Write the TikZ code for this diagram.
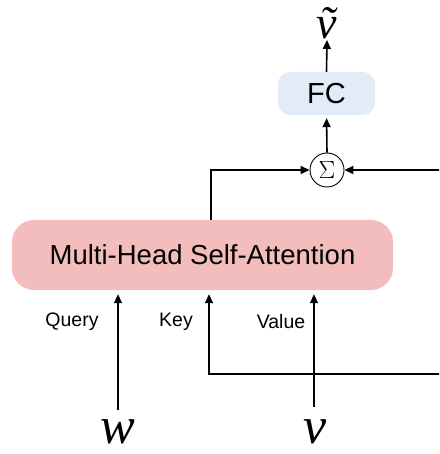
\documentclass[tikz,border=0pt]{standalone}
\usepackage{fontspec}
\setmainfont{Liberation Serif}
\newfontfamily\labelfont{Liberation Sans}
\usetikzlibrary{arrows.meta}
\definecolor{attnpink}{RGB}{244,189,189}
\definecolor{fcblue}{RGB}{226,236,248}
\tikzset{
  flow/.style={line width=1.6pt, -{Triangle[length=9pt,width=8pt]}},
  block/.style={rounded corners=#1, inner sep=0pt, font=\labelfont},
  sublabel/.style={font=\labelfont\fontsize{19.5}{22}\selectfont, anchor=center},
  varlabel/.style={font=\itshape\fontsize{52}{52}\selectfont, inner sep=0pt},
}
\begin{document}
\begin{tikzpicture}[x=1pt, y=-1pt]
  \clip (0,0) rectangle (439,454);
  % attention block and fully connected layer
  \node[block=22pt, fill=attnpink, minimum width=381pt, minimum height=70pt,
        font=\labelfont\fontsize{27.5}{32}\selectfont] (mhsa) at (202.5,255) {Multi-Head Self-Attention};
  \node[block=12pt, fill=fcblue, minimum width=97pt, minimum height=43pt,
        font=\labelfont\fontsize{29}{34}\selectfont] (fc) at (326.5,93.5) {FC};
  % summation
  \node[draw, circle, line width=0.9pt, minimum size=34pt, inner sep=0pt,
        font=\fontsize{24}{24}\selectfont] (sum) at (327,170) {$\Sigma$};
  % input and output symbols
  \node[varlabel] (w) at (118,432) {w};
  \node[varlabel] (v) at (315,432) {v};
  \node[varlabel, font=\itshape\fontsize{46}{46}\selectfont] (vt) at (327,23) {\~{v}};
  % input labels
  \node[sublabel] (q) at (72,322) {Query};
  \node[sublabel] (k) at (176,322) {Key};
  \node[sublabel] (val) at (281,322) {Value};
  % helper points
  \coordinate (wtop) at (118,410);
  \coordinate (vtop) at (314,407);
  \coordinate (kcorner) at (209,374);
  \coordinate (rbottom) at (450,374);
  \coordinate (rtop) at (450,170);
  \coordinate (lcorner) at (211,170);
  \coordinate (mhsaout) at (211,220);
  \coordinate (vtbase) at (327,40);
  % connectors
  \draw[flow, shorten >=4pt] (wtop) -- (wtop |- mhsa.south);
  \draw[flow, shorten >=4pt] (vtop) -- (vtop |- mhsa.south);
  \draw[flow, shorten >=4pt] (rbottom) -- (kcorner) -- (kcorner |- mhsa.south);
  \draw[flow] (mhsaout) -- (lcorner) -- (sum.west);
  \draw[flow] (rtop) -- (sum.east);
  \draw[flow, shorten >=3pt] (sum.north) -- (fc.south);
  \draw[flow] (fc.north) -- (vtbase);
\end{tikzpicture}
\end{document}
